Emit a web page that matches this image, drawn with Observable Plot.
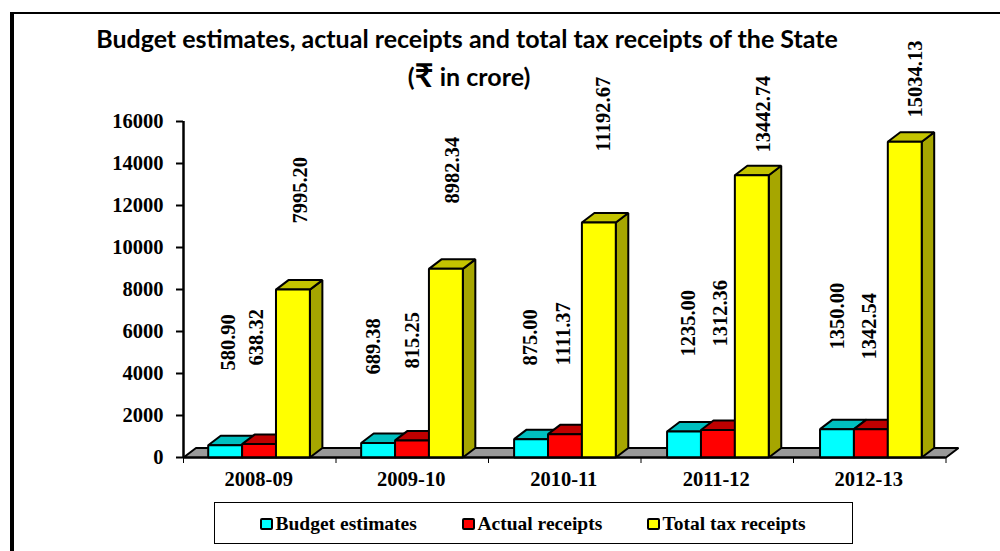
<!DOCTYPE html>
<html><head><meta charset="utf-8">
<script src="https://cdn.jsdelivr.net/npm/d3@7"></script>
<script src="https://cdn.jsdelivr.net/npm/@observablehq/plot@0.6"></script>
<style>
html,body{margin:0;padding:0;background:#fff;overflow:hidden}
#page{position:relative;width:1000px;height:551px;overflow:hidden}
#frameTop{position:absolute;left:10px;top:11.5px;width:990px;height:2px;background:#000}
#frameLeft{position:absolute;left:10px;top:11.5px;width:3.5px;height:540px;background:#000}
#title{position:absolute;left:67px;top:19px;width:800px;text-align:center;font:bold 25px/38px Lato,sans-serif;color:#000}
#title .l2{position:relative;left:2px}
#title .r{font-size:33px;line-height:30px;vertical-align:-1px}
#chart{position:absolute;left:0;top:0}
#legend{position:absolute;left:214px;top:502px;width:637px;height:40px;border:1px solid #000;font:bold 19.5px "Liberation Serif",serif;color:#000}
.item{position:absolute;top:9.5px;white-space:nowrap;line-height:21px}
.sw{display:inline-block;box-sizing:border-box;width:12.5px;height:12.5px;border:2.2px solid #000;border-radius:2px;margin-right:3px;vertical-align:-0.5px}
</style></head><body>
<div id="page">
<div id="chart"></div>
<div id="frameTop"></div><div id="frameLeft"></div>
<div id="title">Budget estimates, actual receipts and total tax receipts of the State<br><span class="l2">(<span class="r">₹</span> in crore)</span></div>
<div id="legend"></div>
</div>
<script>
const years = ["2008-09","2009-10","2010-11","2011-12","2012-13"];
const seriesNames = ["Budget estimates","Actual receipts","Total tax receipts"];
const budgetEstimates = [580.90,689.38,875.00,1235.00,1350.00];
const actualReceipts = [638.32,815.25,1111.37,1312.36,1342.54];
const totalTaxReceipts = [7995.20,8982.34,11192.67,13442.74,15034.13];
const seriesValues = [budgetEstimates,actualReceipts,totalTaxReceipts];
const frontColors = ["#00ffff","#ff0000","#ffff00"];
const topColors = ["#00bfbf","#bf0000","#c4c400"];
const sideColors = ["#00a6a6","#a60000","#a6a600"];
// label nudges in px from the top-centre of each bar
const labelDx = [[2.7,-3.2,7],[-4.7,0.4,6.6],[0,-1,5.2],[5,3.6,12.3],[2,-0.8,11.4]];
const labelDy = [[-74.8,-78.6,-66.1],[-68.5,-71.9,-65.4],[-73.6,-68.7,-71],[-75,-83.4,-22.7],[-79.7,-69.8,-24.3]];

const W=1000,H=551,mL=183,mR=54.5,mT=121,mB=94;
const unitX=(W-mL-mR)/5, unitY=(H-mT-mB)/16000;
const depthX=12.5/unitX, depthY=9.5/unitY;
const barW=1/4.5, gap=barW*0.75;
const barStart=0.162, barStep=1.003; // bars sit very slightly wider apart than the category ticks

const polys=[];
function poly(pts,fill){const id=polys.length? polys[polys.length-1].id+1:0;pts.forEach(p=>polys.push({id,x:p[0],y:p[1],fill}));}
poly([[0,0],[5,0],[5+depthX,depthY],[depthX,depthY]],"#999999");
years.forEach((yr,i)=>{
  seriesValues.forEach((vals,s)=>{
    const x0=i*barStep+barStart+s*barW,x1=x0+barW,v=vals[i];
    poly([[x1,0],[x1+depthX,depthY],[x1+depthX,v+depthY],[x1,v]],sideColors[s]);
    poly([[x0,v],[x1,v],[x1+depthX,v+depthY],[x0+depthX,v+depthY]],topColors[s]);
    poly([[x0,0],[x1,0],[x1,v],[x0,v]],frontColors[s]);
  });
});
const font='"Liberation Serif",serif';
const labelMarks=[];
years.forEach((yr,i)=>seriesValues.forEach((vals,s)=>{
  labelMarks.push(Plot.text([{x:i+gap+(s+.5)*barW,y:vals[i],t:vals[i].toFixed(2)}],{x:"x",y:"y",text:"t",rotate:-90,textAnchor:"start",lineAnchor:"middle",dx:labelDx[i][s],dy:labelDy[i][s],fontSize:20.5,fontWeight:"bold",fontFamily:font,fill:"#000"}));
}));
const plot=Plot.plot({
  width:W,height:H,marginLeft:mL,marginRight:mR,marginTop:mT,marginBottom:mB,
  style:{background:"transparent",overflow:"visible"},
  x:{type:"linear",domain:[0,5]},
  y:{domain:[0,16000]},
  color:{type:"identity"},
  marks:[
    Plot.line(polys,{x:"x",y:"y",z:"id",fill:"fill",stroke:"#000",strokeWidth:2,curve:"linear-closed",strokeLinejoin:"miter"}),
    Plot.ruleY([0],{stroke:"#000",strokeWidth:2}),
    Plot.ruleX([0],{stroke:"#000",strokeWidth:2.5}),
    Plot.axisY({ticks:d3.range(0,16001,2000),tickSize:7,tickPadding:13,tickFormat:d=>String(d),label:null,fontSize:20.5,fontWeight:"bold",fontFamily:font,stroke:"#000",strokeWidth:2,fill:"#000"}),
    Plot.axisX({ticks:d3.range(0,6),tickSize:6,tickFormat:()=>"",label:null,stroke:"#000",strokeWidth:1}),
    Plot.axisX({ticks:years.map((_,i)=>i+.5),tickSize:0,tickPadding:14,dx:-1,tickFormat:d=>years[d-.5],label:null,fontSize:20.5,fontWeight:"bold",fontFamily:font,fill:"#000"}),
    ...labelMarks
  ]
});
document.getElementById("chart").appendChild(plot);
const lg=document.getElementById("legend");
const lefts=[45,247,432];
seriesNames.forEach((n,s)=>{
  const d=document.createElement("div");d.className="item";d.style.left=lefts[s]+"px";
  const sw=document.createElement("span");sw.className="sw";sw.style.background=frontColors[s];
  d.appendChild(sw);d.appendChild(document.createTextNode(n));lg.appendChild(d);
});
</script>
</body></html>
